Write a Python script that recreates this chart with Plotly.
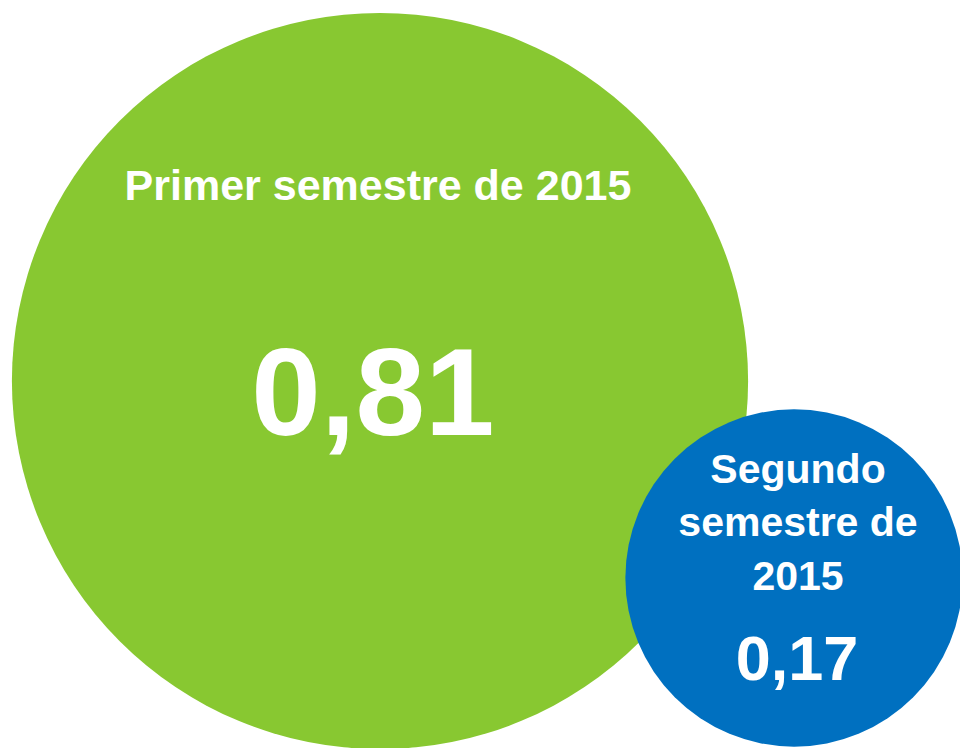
import textwrap
import plotly.graph_objects as go

# ---- data ----
periods = ["Primer semestre de 2015", "Segundo semestre de 2015"]
values = [0.81, 0.17]

# ---- layout / style (not data) ----
W, H = 960, 748
centers_x = [380, 794]
centers_y = [381, 578]
colors = ["#88C831", "#0070C0"]
wrap_widths = [40, 11]
label_sizes = [43, 41]
value_sizes = [125, 63]
label_x = [378, 798]
value_x = [373, 797]
label_y = [189, 526]
value_y = [404, 664]
K = 409  # px radius per sqrt(value) -> bubble area proportional to value
FONT = "Liberation Sans, Arial, sans-serif"

fig = go.Figure()

# bubbles (area proportional to value)
for i, v in enumerate(values):
    fig.add_trace(go.Scatter(
        x=[centers_x[i]], y=[centers_y[i]], mode="markers",
        marker=dict(size=[2 * K * v ** 0.5], sizemode="diameter",
                    color=colors[i], line=dict(width=0), opacity=1),
        hoverinfo="skip", showlegend=False,
    ))

# labels and values
for i, (p, v) in enumerate(zip(periods, values)):
    label = "<br>".join(textwrap.wrap(p, wrap_widths[i]))
    fig.add_trace(go.Scatter(
        x=[label_x[i]], y=[label_y[i]], mode="text", text=[label],
        textposition="middle center",
        textfont=dict(family=FONT, size=label_sizes[i], color="white", weight="bold"),
        hoverinfo="skip", showlegend=False,
    ))
    fig.add_trace(go.Scatter(
        x=[value_x[i]], y=[value_y[i]], mode="text",
        text=[f"{v:.2f}".replace(".", ",")],
        textposition="middle center",
        textfont=dict(family=FONT, size=value_sizes[i], color="white", weight="bold"),
        hoverinfo="skip", showlegend=False,
    ))

fig.update_layout(
    width=W, height=H,
    margin=dict(l=0, r=0, t=0, b=0),
    paper_bgcolor="white", plot_bgcolor="white",
    xaxis=dict(range=[0, W], visible=False, fixedrange=True),
    yaxis=dict(range=[H, 0], visible=False, fixedrange=True),
    showlegend=False,
)

fig.write_html(
    "out.html",
    config={"displayModeBar": False},
    post_script="document.body.style.margin='0';document.body.style.overflow='hidden';",
)
